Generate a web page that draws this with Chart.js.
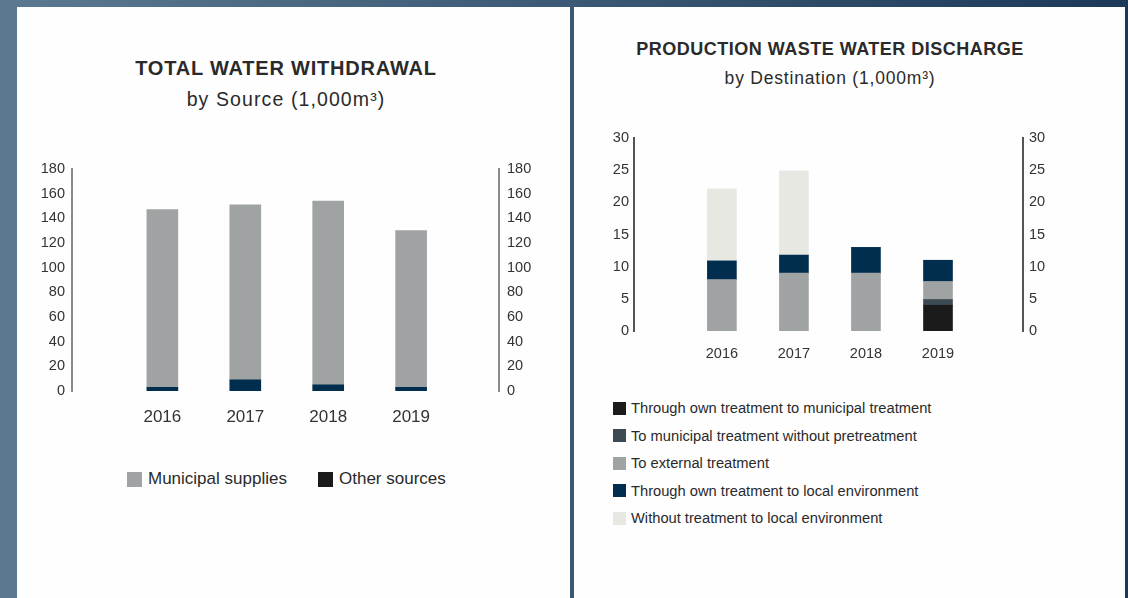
<!DOCTYPE html>
<html>
<head>
<meta charset="utf-8">
<script src="https://cdn.jsdelivr.net/npm/chart.js@4"></script>
<style>
  body { margin: 0; width: 1128px; height: 598px; overflow: hidden;
         background: linear-gradient(to right, #5b7991, #1c3a58); font-family: 'Liberation Sans', Arial, sans-serif; color: #2a2a2a; }
  .panel { position: absolute; background: #fefefe; top: 7px; height: 591px; }
  .txt { position: absolute; white-space: nowrap; }
  .title { font-weight: bold; transform: translateX(-50%); }
  .sub { transform: translateX(-50%); }
  canvas { position: absolute; }
  .leg { position: absolute; white-space: nowrap; display: flex; align-items: center; }
  .leg i { display: inline-block; flex: none; }
</style>
</head>
<body>
<div class="panel" style="left:17px; width:553px;"></div>
<div class="panel" style="left:574px; width:551px;"></div>

<div class="txt title" style="left:286px; top:57px; font-size:20px; line-height:22px; letter-spacing:0.8px;">TOTAL WATER WITHDRAWAL</div>
<div class="txt sub" style="left:286px; top:88px; font-size:19.5px; line-height:22px; letter-spacing:1.1px;">by Source (1,000m³)</div>
<div class="txt title" style="left:830px; top:39px; font-size:18px; line-height:20px; letter-spacing:0.5px;">PRODUCTION WASTE WATER DISCHARGE</div>
<div class="txt sub" style="left:830px; top:68px; font-size:17.5px; line-height:20px; letter-spacing:0.8px;">by Destination (1,000m³)</div>

<div style="position:absolute; left:17px; top:150px; width:553px; height:290px;"><canvas id="withdrawal"></canvas></div>
<div style="position:absolute; left:574px; top:120px; width:551px; height:250px;"><canvas id="discharge"></canvas></div>

<script>
// years shown on both charts
const years = [2016, 2017, 2018, 2019];

// total water withdrawal (1,000 m3)
const municipalSupplies = [144, 142, 149, 127];
const otherSources = [3, 9, 5, 3];
const withdrawalTicks = [0, 20, 40, 60, 80, 100, 120, 140, 160, 180];

// production waste water discharge (1,000 m3)
const ownToMunicipal = [0, 0, 0, 4];
const municipalNoPretreatment = [0, 0, 0, 0.9];
const externalTreatment = [8, 9, 9, 2.8];
const ownToLocal = [2.9, 2.8, 4, 3.3];
const noTreatmentToLocal = [11.2, 13.1, 0, 0];
const dischargeTicks = [0, 5, 10, 15, 20, 25, 30];

const GRAY = '#a0a3a3', NAVY = '#012d4f';
const FONT = "'Liberation Sans', Arial, sans-serif";

// zero entries are left out so no hairline gets drawn at the base
function points(values) {
    return years.map((yr, i) => ({ x: yr, y: values[i] })).filter(p => p.y !== 0);
}

function yAxis(position, ticks, width, color, pad, fontSize) {
    return {
        position: position,
        stacked: true,
        min: ticks[0],
        max: ticks[ticks.length - 1],
        afterBuildTicks: s => { s.ticks = ticks.map(v => ({ value: v })); },
        afterFit: s => { s.width = width; },
        grid: { display: false, drawTicks: false },
        border: { display: true, color: color, width: 2 },
        ticks: { padding: pad, color: '#333', font: { size: fontSize, family: FONT } }
    };
}

function xAxis(min, max, height, pad, fontSize) {
    return {
        type: 'linear',
        stacked: true,
        offset: false,
        bounds: 'data',
        min: min,
        max: max,
        afterBuildTicks: s => {
            s.ticks = years.map(v => ({ value: v }));
            s.min = min;
            s.max = max;
        },
        afterFit: s => { s.height = height; },
        grid: { display: false, drawTicks: false },
        border: { display: false },
        ticks: { padding: pad, color: '#333', font: { size: fontSize, family: FONT },
                 callback: v => String(v) }
    };
}

const common = {
    responsive: true,
    maintainAspectRatio: false,
    animation: false,
    plugins: { legend: { display: false }, tooltip: { enabled: false } }
};

new Chart(document.getElementById('withdrawal'), {
    type: 'bar',
    data: {
        datasets: [
            { label: 'Other sources', data: points(otherSources), backgroundColor: NAVY, barThickness: 31 },
            { label: 'Municipal supplies', data: points(municipalSupplies), backgroundColor: GRAY, barThickness: 31 }
        ]
    },
    options: Object.assign({}, common, {
        layout: { padding: { top: 19, left: 0, right: 0, bottom: 0 } },
        scales: {
            x: xAxis(2014.91, 2020.06, 49, 16, 17),
            y: yAxis('left', withdrawalTicks, 55, '#8a8a8a', 7, 14.5),
            y2: yAxis('right', withdrawalTicks, 71, '#8a8a8a', 8, 14.5)
        }
    })
});

const dischargeSeries = [
    { label: 'Through own treatment to municipal treatment', values: ownToMunicipal, color: '#1b1b1b' },
    { label: 'To municipal treatment without pretreatment', values: municipalNoPretreatment, color: '#3e4a53' },
    { label: 'To external treatment', values: externalTreatment, color: GRAY },
    { label: 'Through own treatment to local environment', values: ownToLocal, color: NAVY },
    { label: 'Without treatment to local environment', values: noTreatmentToLocal, color: '#e8e8e3' }
];

new Chart(document.getElementById('discharge'), {
    type: 'bar',
    data: {
        datasets: dischargeSeries.map(s => ({
            label: s.label, data: points(s.values), backgroundColor: s.color, barThickness: 29
        }))
    },
    options: Object.assign({}, common, {
        layout: { padding: { top: 18, left: 0, right: 0, bottom: 0 } },
        scales: {
            x: xAxis(2014.78, 2020.18, 39, 14, 14.5),
            y: yAxis('left', dischargeTicks, 60, '#555', 5, 14.5),
            y2: yAxis('right', dischargeTicks, 102, '#555', 6, 14.5)
        }
    })
});

// HTML legends
function legendItem(left, top, box, color, text, fontSize, gap) {
    const d = document.createElement('div');
    d.className = 'leg';
    d.style.left = left + 'px';
    d.style.top = (top - 10) + 'px';
    d.style.height = '20px';
    d.style.fontSize = fontSize + 'px';
    d.innerHTML = '<i style="width:' + box + 'px;height:' + box + 'px;background:' + color +
        ';margin-right:' + gap + 'px"></i><span>' + text + '</span>';
    document.body.appendChild(d);
}

legendItem(127, 479, 15, GRAY, 'Municipal supplies', 17, 6);
legendItem(318, 479, 15, '#1a1a1a', 'Other sources', 17, 6);

dischargeSeries.forEach((s, i) => {
    legendItem(613, 408 + 27.6 * i, 13, s.color, s.label, 14.7, 5);
});
</script>
</body>
</html>
